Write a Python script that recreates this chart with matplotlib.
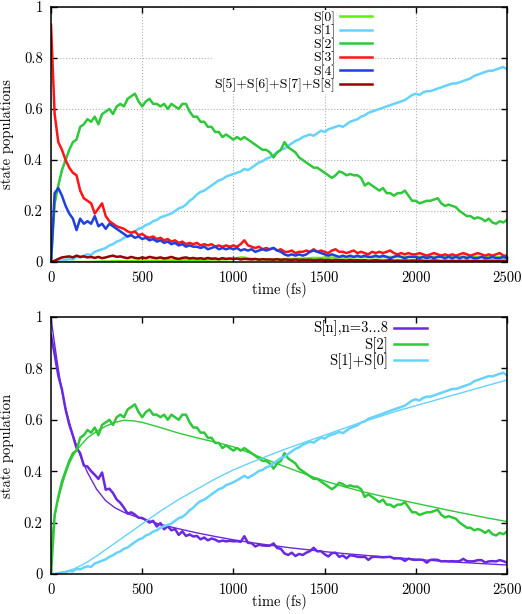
import numpy as np
import matplotlib
matplotlib.use("Agg")
import matplotlib.pyplot as plt

plt.rcParams['font.family'] = 'serif'
plt.rcParams['font.serif'] = ['cmr10', 'DejaVu Serif']
plt.rcParams['axes.unicode_minus'] = False

# ---------------- data ----------------
# time grid (fs), sampled every 20 fs
time_fs = np.arange(0, 2501, 20)

s0 = [0, 0, 0, 0, 0, 0, 0, 0, 0, 0,
      0, 0, 0.001, 0.001, 0.002, 0.002, 0.002, 0.003, 0.003, 0.003,
      0.003, 0.003, 0.004, 0.004, 0.004, 0.004, 0.005, 0.005, 0.005, 0.005,
      0.005, 0.006, 0.006, 0.006, 0.007, 0.007, 0.007, 0.008, 0.008, 0.008,
      0.008, 0.009, 0.009, 0.009, 0.01, 0.01, 0.01, 0.01, 0.011, 0.011,
      0.012, 0.015, 0.018, 0.017, 0.014, 0.012, 0.011, 0.011, 0.01, 0.01,
      0.01, 0.01, 0.011, 0.011, 0.011, 0.012, 0.012, 0.012, 0.013, 0.013,
      0.014, 0.015, 0.016, 0.016, 0.016, 0.017, 0.017, 0.017, 0.017, 0.018,
      0.018, 0.018, 0.018, 0.018, 0.019, 0.019, 0.019, 0.019, 0.019, 0.019,
      0.019, 0.019, 0.02, 0.02, 0.02, 0.02, 0.02, 0.02, 0.02, 0.02,
      0.02, 0.02, 0.02, 0.02, 0.02, 0.02, 0.02, 0.02, 0.02, 0.02,
      0.02, 0.02, 0.02, 0.02, 0.02, 0.02, 0.02, 0.02, 0.02, 0.02,
      0.02, 0.019, 0.019, 0.019, 0.018, 0.018]

s1 = [0, 0.0, 0.003, 0.006, 0.008, 0.012, 0.01, 0.02, 0.018, 0.025,
      0.03, 0.028, 0.04, 0.045, 0.05, 0.055, 0.065, 0.07, 0.08, 0.085,
      0.095, 0.10, 0.11, 0.12, 0.13, 0.135, 0.145, 0.15, 0.16, 0.165,
      0.175, 0.18, 0.185, 0.19, 0.20, 0.21, 0.215, 0.225, 0.24, 0.25,
      0.265, 0.275, 0.28, 0.29, 0.30, 0.31, 0.32, 0.325, 0.335, 0.34,
      0.345, 0.35, 0.355, 0.365, 0.36, 0.37, 0.38, 0.39, 0.395, 0.405,
      0.41, 0.42, 0.43, 0.44, 0.445, 0.455, 0.465, 0.475, 0.48, 0.49,
      0.495, 0.50, 0.495, 0.505, 0.515, 0.51, 0.52, 0.525, 0.53, 0.535,
      0.53, 0.54, 0.55, 0.555, 0.56, 0.57, 0.575, 0.585, 0.59, 0.595,
      0.60, 0.605, 0.61, 0.615, 0.62, 0.625, 0.63, 0.635, 0.645, 0.655,
      0.66, 0.655, 0.665, 0.67, 0.67, 0.675, 0.68, 0.685, 0.69, 0.695,
      0.70, 0.70, 0.705, 0.71, 0.715, 0.72, 0.73, 0.735, 0.74, 0.745,
      0.75, 0.75, 0.755, 0.76, 0.765, 0.755]

s2 = [0.0, 0.23, 0.30, 0.36, 0.40, 0.44, 0.47, 0.48, 0.53, 0.54,
      0.56, 0.55, 0.57, 0.54, 0.58, 0.59, 0.60, 0.58, 0.61, 0.62,
      0.61, 0.64, 0.65, 0.66, 0.63, 0.61, 0.63, 0.64, 0.62, 0.62,
      0.61, 0.62, 0.60, 0.62, 0.61, 0.60, 0.62, 0.62, 0.59, 0.57,
      0.57, 0.55, 0.55, 0.53, 0.53, 0.51, 0.51, 0.49, 0.50, 0.49,
      0.48, 0.49, 0.48, 0.49, 0.48, 0.47, 0.46, 0.45, 0.44, 0.44,
      0.43, 0.41, 0.43, 0.44, 0.47, 0.45, 0.44, 0.43, 0.41, 0.40,
      0.39, 0.38, 0.37, 0.37, 0.36, 0.35, 0.34, 0.33, 0.34, 0.355,
      0.35, 0.34, 0.345, 0.34, 0.34, 0.33, 0.30, 0.31, 0.30, 0.29,
      0.28, 0.29, 0.27, 0.27, 0.26, 0.27, 0.27, 0.28, 0.26, 0.24,
      0.24, 0.23, 0.235, 0.24, 0.24, 0.245, 0.25, 0.23, 0.22, 0.225,
      0.22, 0.215, 0.20, 0.19, 0.18, 0.18, 0.17, 0.175, 0.17, 0.16,
      0.17, 0.155, 0.15, 0.16, 0.155, 0.165]

s3 = [0.93, 0.58, 0.47, 0.44, 0.40, 0.37, 0.35, 0.34, 0.28, 0.25,
      0.24, 0.23, 0.19, 0.21, 0.23, 0.18, 0.16, 0.15, 0.14, 0.135,
      0.13, 0.12, 0.115, 0.12, 0.105, 0.11, 0.10, 0.095, 0.10, 0.09,
      0.095, 0.085, 0.09, 0.08, 0.085, 0.075, 0.08, 0.07, 0.075, 0.07,
      0.075, 0.065, 0.07, 0.065, 0.07, 0.06, 0.065, 0.06, 0.065, 0.06,
      0.065, 0.06, 0.07, 0.085, 0.065, 0.06, 0.055, 0.06, 0.05, 0.055,
      0.05, 0.055, 0.045, 0.05, 0.04, 0.04, 0.045, 0.035, 0.04, 0.04,
      0.045, 0.04, 0.05, 0.04, 0.045, 0.04, 0.035, 0.045, 0.05, 0.04,
      0.04, 0.035, 0.04, 0.045, 0.035, 0.04, 0.035, 0.03, 0.04, 0.035,
      0.04, 0.035, 0.04, 0.045, 0.035, 0.03, 0.035, 0.03, 0.035, 0.03,
      0.03, 0.035, 0.03, 0.025, 0.03, 0.035, 0.03, 0.025, 0.03, 0.025,
      0.03, 0.025, 0.03, 0.035, 0.03, 0.025, 0.03, 0.035, 0.03, 0.025,
      0.03, 0.025, 0.03, 0.035, 0.025, 0.025]

s4 = [0.0, 0.27, 0.29, 0.26, 0.22, 0.19, 0.17, 0.125, 0.17, 0.15,
      0.16, 0.15, 0.18, 0.14, 0.15, 0.13, 0.15, 0.14, 0.13, 0.12,
      0.11, 0.10, 0.105, 0.095, 0.10, 0.09, 0.095, 0.085, 0.09, 0.08,
      0.085, 0.075, 0.08, 0.07, 0.075, 0.065, 0.07, 0.06, 0.065, 0.06,
      0.06, 0.055, 0.06, 0.05, 0.055, 0.06, 0.05, 0.055, 0.05, 0.055,
      0.05, 0.055, 0.045, 0.05, 0.045, 0.05, 0.04, 0.045, 0.05, 0.045,
      0.05, 0.055, 0.045, 0.04, 0.03, 0.025, 0.03, 0.025, 0.03, 0.025,
      0.03, 0.04, 0.045, 0.04, 0.035, 0.03, 0.025, 0.03, 0.025, 0.02,
      0.025, 0.02, 0.025, 0.02, 0.025, 0.02, 0.025, 0.02, 0.02, 0.025,
      0.02, 0.025, 0.02, 0.015, 0.02, 0.025, 0.02, 0.015, 0.02, 0.02,
      0.02, 0.015, 0.02, 0.015, 0.02, 0.015, 0.02, 0.02, 0.015, 0.02,
      0.015, 0.02, 0.015, 0.02, 0.015, 0.02, 0.015, 0.015, 0.02, 0.015,
      0.015, 0.02, 0.015, 0.015, 0.02, 0.015]

s5to8 = [0.0, 0.005, 0.012, 0.018, 0.02, 0.022, 0.018, 0.025, 0.02, 0.022,
         0.018, 0.02, 0.016, 0.02, 0.015, 0.018, 0.022, 0.025, 0.02, 0.022,
         0.018, 0.015, 0.02, 0.016, 0.014, 0.018, 0.015, 0.02, 0.017, 0.015,
         0.018, 0.014, 0.016, 0.02, 0.015, 0.012, 0.016, 0.018, 0.014, 0.016,
         0.013, 0.015, 0.012, 0.016, 0.013, 0.014, 0.011, 0.015, 0.012, 0.014,
         0.012, 0.013, 0.01, 0.012, 0.011, 0.01, 0.012, 0.009, 0.011, 0.01,
         0.01, 0.009, 0.011, 0.008, 0.01, 0.009, 0.008, 0.01, 0.008, 0.009,
         0.008, 0.009, 0.007, 0.008, 0.009, 0.007, 0.008, 0.006, 0.008, 0.007,
         0.007, 0.006, 0.008, 0.006, 0.007, 0.006, 0.007, 0.005, 0.006, 0.007,
         0.006, 0.005, 0.006, 0.007, 0.005, 0.006, 0.005, 0.006, 0.005, 0.006,
         0.005, 0.006, 0.005, 0.004, 0.005, 0.006, 0.005, 0.004, 0.005, 0.004,
         0.005, 0.004, 0.005, 0.004, 0.005, 0.004, 0.005, 0.004, 0.004, 0.005,
         0.004, 0.005, 0.004, 0.004, 0.005, 0.004]

# fitted kinetic model curves (bottom panel)
time_fit = [0, 5, 10, 20, 35, 55, 75, 100, 125, 150, 175, 200, 250, 300, 350,
            400, 450, 500, 600, 700, 800, 900, 1000, 1100, 1200, 1300, 1400,
            1500, 1600, 1700, 1800, 1900, 2000, 2100, 2200, 2300, 2400, 2500]
fit_upper = [1.0, 0.97, 0.945, 0.895, 0.82, 0.73, 0.66, 0.59, 0.53, 0.48, 0.435,
             0.395, 0.33, 0.285, 0.258, 0.24, 0.227, 0.215, 0.193, 0.176, 0.16,
             0.146, 0.133, 0.122, 0.112, 0.103, 0.095, 0.087, 0.08, 0.074,
             0.068, 0.063, 0.057, 0.052, 0.047, 0.043, 0.039, 0.035]
fit_s2 = [0.0, 0.12, 0.17, 0.22, 0.28, 0.33, 0.38, 0.43, 0.465, 0.49, 0.51,
          0.53, 0.555, 0.575, 0.59, 0.598, 0.596, 0.59, 0.57, 0.548, 0.53,
          0.513, 0.495, 0.468, 0.44, 0.413, 0.387, 0.362, 0.341, 0.322,
          0.305, 0.29, 0.275, 0.26, 0.245, 0.231, 0.217, 0.204]
fit_low = [0.0, 0.0, 0.0, 0.001, 0.002, 0.004, 0.008, 0.014, 0.02, 0.028, 0.037,
           0.047, 0.07, 0.095, 0.12, 0.145, 0.17, 0.195, 0.245, 0.29, 0.33,
           0.37, 0.405, 0.435, 0.463, 0.49, 0.515, 0.54, 0.565, 0.59, 0.612,
           0.635, 0.655, 0.675, 0.695, 0.715, 0.735, 0.755]

top_labels = ['S[0]', 'S[1]', 'S[2]', 'S[3]', 'S[4]', 'S[5]+S[6]+S[7]+S[8]']
bottom_labels = ['S[n],n=3...8', 'S[2]', 'S[1]+S[0]']
x_ticks = [0, 500, 1000, 1500, 2000, 2500]
x_ticklabels = ['0', '500', '1000', '1500', '2000', '2500']
y_ticks = [0, 0.2, 0.4, 0.6, 0.8, 1.0]
y_ticklabels = ['0', '0.2', '0.4', '0.6', '0.8', '1']

# derived sums for bottom panel
s_upper = np.array(s3) + np.array(s4) + np.array(s5to8)
s_low = np.array(s1) + np.array(s0)

# ---------------- styling ----------------
c_s0 = '#5ef000'
c_s1 = '#66d2ff'
c_s2 = '#2fc83a'
c_s3 = '#ff1515'
c_s4 = '#1f40e0'
c_s58 = '#990000'
c_up = '#6a28e0'
FS = 10.5
LW = 1.8

fig = plt.figure(figsize=(5.22, 6.14), dpi=100)
ax1 = fig.add_axes([51/522, 1-262/614, 456/522, 255/614])
ax2 = fig.add_axes([51/522, 1-574/614, 456/522, 257/614])

for ax in (ax1, ax2):
    ax.set_xlim(0, 2500)
    ax.set_ylim(0, 1)
    ax.set_xticks(x_ticks)
    ax.set_xticklabels(x_ticklabels)
    ax.set_yticks(y_ticks)
    ax.set_yticklabels(y_ticklabels)
    ax.tick_params(direction='in', top=True, right=True, length=4, width=1,
                   labelsize=FS)
    ax.tick_params(axis='x', pad=7)
    ax.tick_params(axis='y', pad=6)
    for sp in ax.spines.values():
        sp.set_linewidth(1.1)
    ax.set_xlabel('time (fs)', fontsize=FS, labelpad=-2.5)

ax1.grid(True, color='#b0b0b0', linestyle=':', linewidth=0.8)
ax1.set_axisbelow(True)
ax1.set_ylabel('state populations', fontsize=FS, labelpad=7)
ax2.set_ylabel('state population', fontsize=FS, labelpad=7)

series = [s0, s1, s2, s3, s4, s5to8]
colors = [c_s0, c_s1, c_s2, c_s3, c_s4, c_s58]
for ys, col, lab in zip(series, colors, top_labels):
    ax1.plot(time_fs, ys, color=col, lw=LW, label=lab)

ax1.legend(loc='upper right', bbox_to_anchor=(0.707, 0.989), markerfirst=False,
           fontsize=10, frameon=True, facecolor='white', edgecolor='none',
           framealpha=1, fancybox=False, borderpad=0.1, labelspacing=0.0,
           handlelength=2.3, handletextpad=0.35, borderaxespad=0)

ax2.plot(time_fs, s_upper, color=c_up, lw=LW, label=bottom_labels[0])
ax2.plot(time_fit, fit_upper, color=c_up, lw=1.0)
ax2.plot(time_fs, s2, color=c_s2, lw=LW, label=bottom_labels[1])
ax2.plot(time_fit, fit_s2, color=c_s2, lw=1.0)
ax2.plot(time_fs, s_low, color=c_s1, lw=LW, label=bottom_labels[2])
ax2.plot(time_fit, fit_low, color=c_s1, lw=1.0)

ax2.legend(loc='upper right', bbox_to_anchor=(0.825, 0.985), markerfirst=False,
           fontsize=FS, frameon=False, borderpad=0, labelspacing=0.05,
           handlelength=2.3, handletextpad=0.4, borderaxespad=0)

fig.savefig('out.png', dpi=100)
